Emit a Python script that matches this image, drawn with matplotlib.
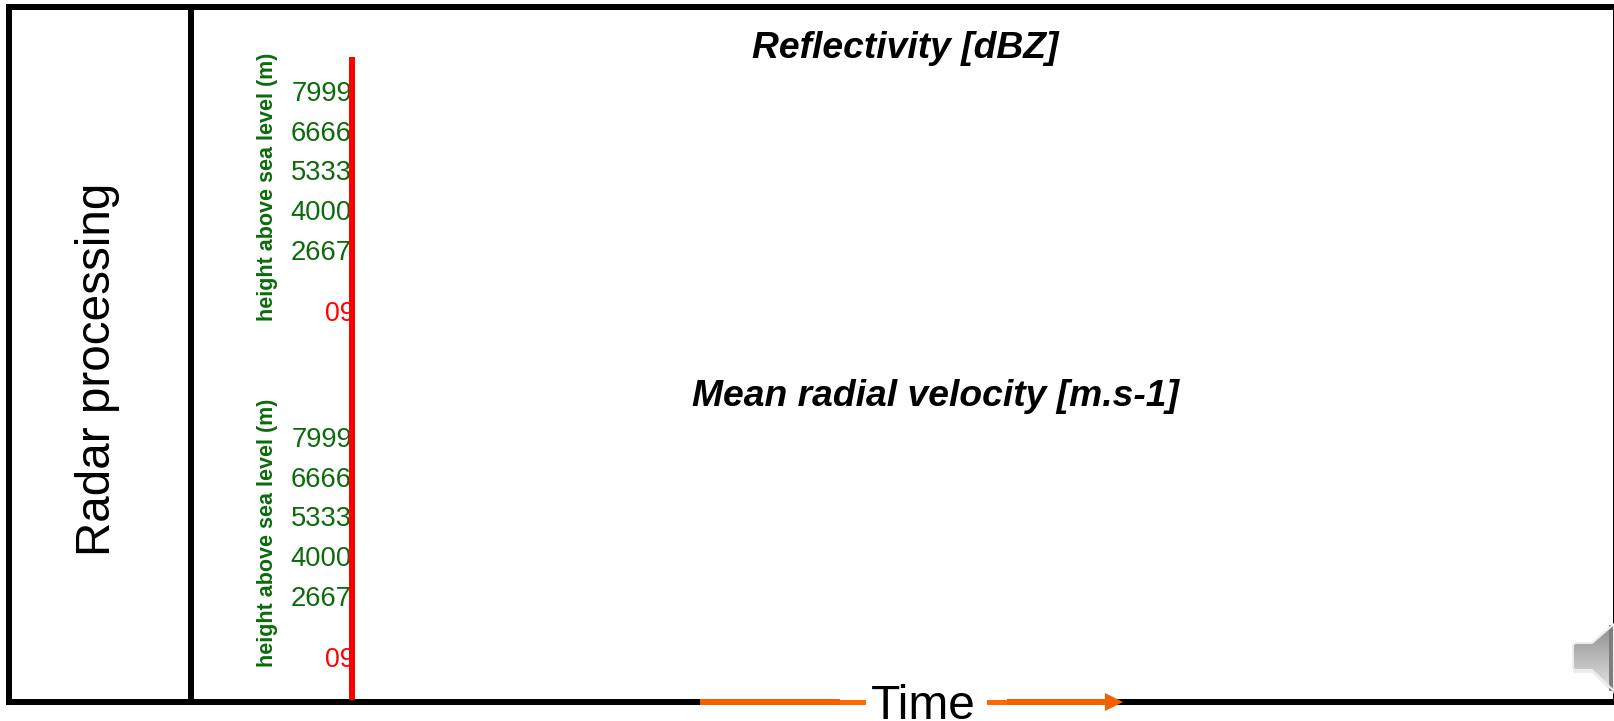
import numpy as np
import matplotlib
matplotlib.use("Agg")
import matplotlib.pyplot as plt
from matplotlib.patches import Rectangle, Polygon, PathPatch
from matplotlib.path import Path

plt.rcParams['font.family'] = ['Liberation Sans', 'DejaVu Sans']

W, H = 1614, 721

# values
height_ticks = [7999, 6666, 5333, 4000, 2667]
height_labels = ["7999", "6666", "5333", "4000", "2667"]
red_tick = 500
red_label = "09"
height_title = "height above sea level (m)"
panel_titles = ["Reflectivity [dBZ]", "Mean radial velocity [m.s-1]"]
side_label = "Radar processing"
time_label = "Time"

GREEN = "#0b6b0b"
RED = "#ff0000"
ORANGE = "#ff6a00"
ORANGE_DARK = "#f46000"


def px_axes(fig, left, top, width, height, **kw):
    return fig.add_axes([left / W, 1 - (top + height) / H, width / W, height / H], **kw)


fig = plt.figure(figsize=(W / 100, H / 100), dpi=100, facecolor="white")

# the two height axes
for top in [91, 437]:
    ax = px_axes(fig, 352, top, 200, 238, facecolor="none")
    ax.set_ylim(0, 7999)
    ax.set_xticks([])
    ax.set_yticks(height_ticks)
    ax.set_yticklabels(height_labels, fontsize=19.7, color=GREEN)
    ax.tick_params(axis="y", length=0, pad=0)
    for s in ax.spines.values():
        s.set_visible(False)
    ax.annotate(red_label, xy=(0, red_tick), xycoords=ax.get_yaxis_transform(),
                xytext=(2.2, 0), textcoords="offset points",
                ha="right", va="center", fontsize=19.2, color=RED)
    ax.annotate(height_title, xy=(0, 0.5), xycoords="axes fraction",
                xytext=(-60.5, 17), textcoords="offset points", rotation=90,
                ha="center", va="center", fontsize=15.5, color=GREEN,
                fontweight="bold")

# overlay in pixels for the frame and annotations
ov = fig.add_axes([0, 0, 1, 1], facecolor="none", zorder=5)
ov.set_xlim(0, W)
ov.set_ylim(H, 0)
ov.axis("off")

# frame
ov.add_patch(Rectangle((6, 3.5), W - 6, 6, color="black", lw=0))
ov.add_patch(Rectangle((6, 699.3), W - 6, 5.7, color="black", lw=0))
ov.add_patch(Rectangle((6, 3.5), 6, 701.5, color="black", lw=0))
ov.add_patch(Rectangle((188, 3.5), 6, 701.5, color="black", lw=0))
ov.add_patch(Rectangle((1613, 3.5), 1, 701.5, color="black", lw=0))

# red line
ov.add_patch(Rectangle((349, 57), 6, 643, color=RED, lw=0))

# time arrow
ov.add_patch(Rectangle((840, 696), 167, 12, color="white", lw=0))
ov.add_patch(Rectangle((700, 699.3), 140, 5.7, color=ORANGE_DARK, lw=0))
ov.add_patch(Rectangle((840, 699.6), 26, 5, color=ORANGE, lw=0))
ov.add_patch(Rectangle((987, 699.6), 20, 5, color=ORANGE, lw=0))
ov.add_patch(Rectangle((1007, 699.3), 98, 5.7, color=ORANGE_DARK, lw=0))
ov.add_patch(Polygon([(1105, 693), (1123, 702), (1105, 711)], closed=True, color=ORANGE_DARK, lw=0))
ov.text(923, 719, time_label, ha="center", va="baseline", fontsize=34.5, color="black")

# titles
ov.text(905.5, 49, panel_titles[0], ha="center", va="center", fontsize=26.8,
        fontweight="bold", fontstyle="italic", color="black")
ov.text(935, 397, panel_titles[1], ha="center", va="center", fontsize=26.8,
        fontweight="bold", fontstyle="italic", color="black")
ov.text(98, 369, side_label, rotation=90, ha="center", va="center", fontsize=34.3, color="black")

# speaker icon
spk = Path([(1575, 643), (1592, 643), (1614, 624), (1614, 691), (1592, 670), (1575, 670),
            (1573, 668), (1573, 645), (1575, 643)], closed=False)
ov.add_patch(PathPatch(Path(spk.vertices + [0, 3]), facecolor="#e4e4e4", edgecolor="none", alpha=0.7))
grad = np.linspace(0, 1, 100).reshape(-1, 1)
img = ov.imshow(grad, extent=(1573, 1614, 691, 624), cmap="gray", vmin=-1.6, vmax=1.3,
                aspect="auto", zorder=3)
ov.set_xlim(0, W)
ov.set_ylim(H, 0)
clip = PathPatch(spk, facecolor="none", edgecolor="#ececec", lw=1.5, zorder=4)
ov.add_patch(clip)
img.set_clip_path(clip)
ov.add_patch(Rectangle((1609, 625), 5, 66, color="#7d7d7d", lw=0, zorder=3.5))

fig.savefig("out.png", dpi=100)
